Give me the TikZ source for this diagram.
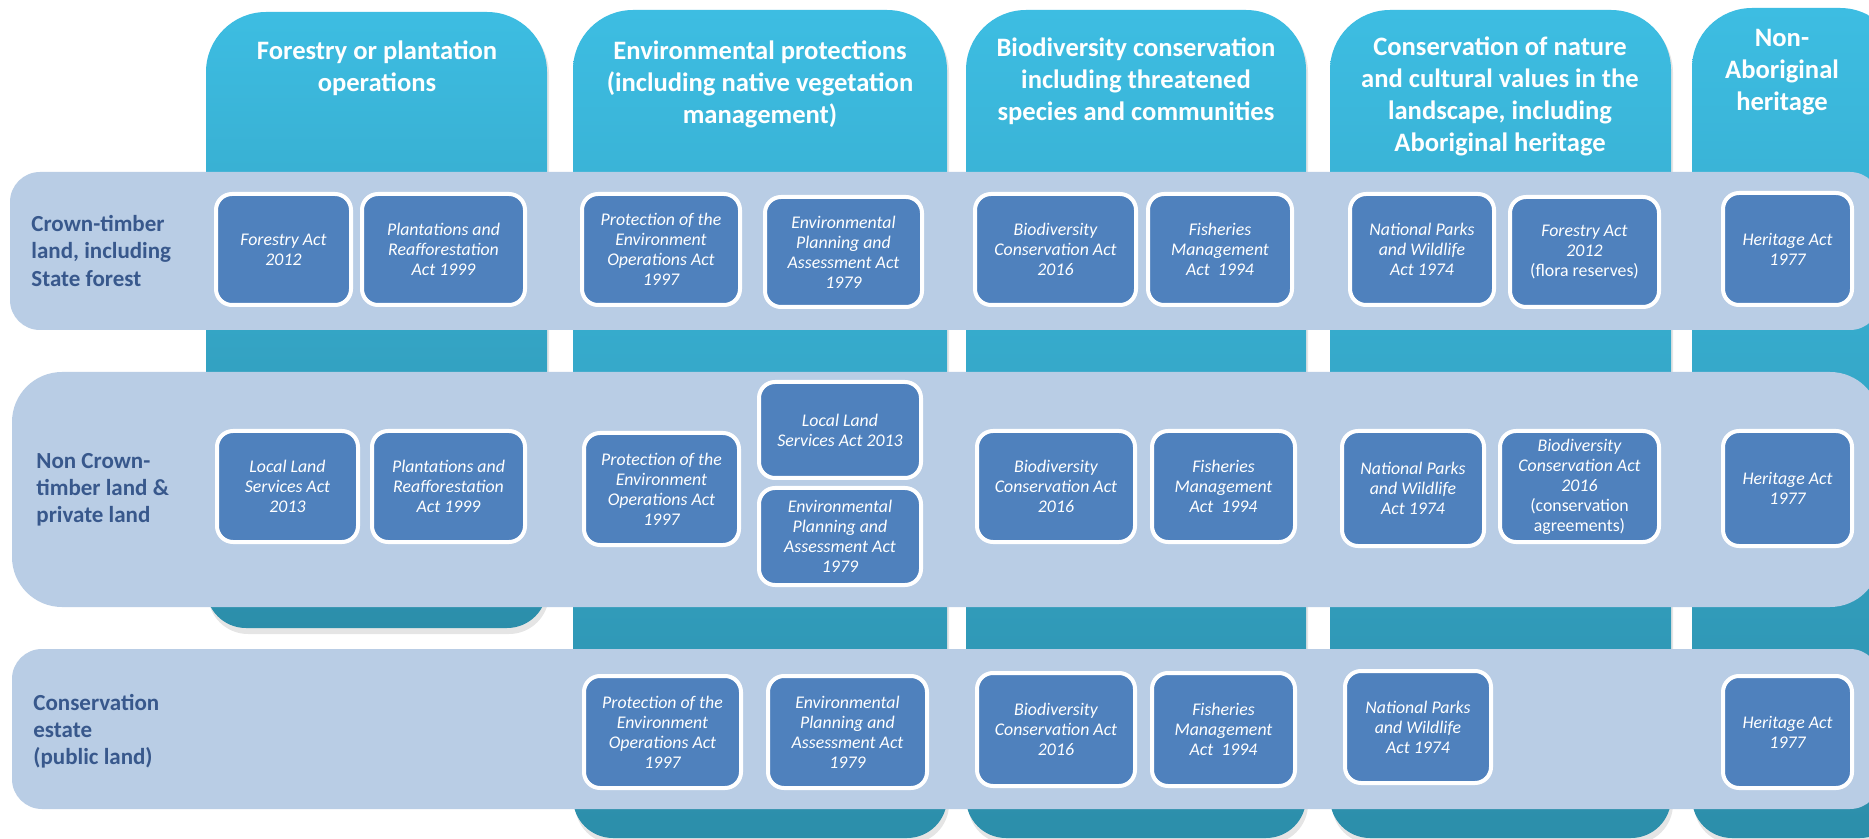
\documentclass[tikz,border=0pt]{standalone}
\usepackage{fontspec}
\setmainfont{Carlito}
\definecolor{colTop}{RGB}{61,189,226}
\definecolor{colBot}{RGB}{44,142,170}
\definecolor{rowFill}{RGB}{185,205,229}
\definecolor{actFill}{RGB}{79,129,189}
\definecolor{rowText}{RGB}{56,88,140}
\tikzset{
  act/.style={draw=white, line width=2pt, fill=actFill, rounded corners=8pt,
    text=white, font=\fontsize{8.9}{10}\selectfont\itshape, align=center, inner sep=0pt},
  colhead/.style={text=white, font=\fontsize{13.3}{16}\selectfont\bfseries, align=center, inner sep=0pt},
  rowhead/.style={text=rowText, font=\fontsize{11.5}{13.6}\selectfont\bfseries, align=left, inner sep=0pt, anchor=west},
  rowband/.style={fill=rowFill},
  colshadow/.style={fill=black, opacity=0.1}
}
\newcommand\myactbox[6]{%
  \pgfmathsetmacro\myabcx{(#2+#4)/2}\pgfmathsetmacro\myabcy{(#3+#5)/2}%
  \pgfmathsetmacro\myabw{(#4-#2)*0.5}\pgfmathsetmacro\myabh{(#5-#3)*0.5}%
  \node[act, minimum width=\myabw pt, minimum height=\myabh pt] (#1) at (\myabcx,\myabcy) {#6};}
\newcommand\mycolumn[4]{%
  \fill[colshadow] [rounded corners=30pt] (#1+2,300) -- (#1+2,#3+3) -- (#2+2,#3+3) -- (#2+2,300) [rounded corners=20pt] -- (#2+2,#4+6) -- (#1+2,#4+6) -- cycle;
  \shade[top color=colTop, bottom color=colBot] [rounded corners=30pt] (#1,300) -- (#1,#3) -- (#2,#3) -- (#2,300) [rounded corners=20pt] -- (#2,#4) -- (#1,#4) -- cycle;}
\begin{document}
\begin{tikzpicture}[x=0.5pt, y=-0.5pt]
\useasboundingbox (0,0) rectangle (1869,839);
\clip (0,0) rectangle (1869,839);
\fill[white] (0,0) rectangle (1869,839);
% columns
\mycolumn{206}{547}{12}{628}
\mycolumn{573}{947}{10}{838}
\mycolumn{966}{1306}{10}{838}
\mycolumn{1330}{1671}{10}{838}
\mycolumn{1692}{1900}{8}{838}
% headers
\node[colhead] (h1) at (377,68) {Forestry or plantation\\operations};
\node[colhead] (h2) at (760,84) {Environmental protections\\(including native vegetation\\management)};
\node[colhead] (h3) at (1136,81) {Biodiversity conservation\\including threatened\\species and communities};
\node[colhead] (h4) at (1500,96) {Conservation of nature\\and cultural values in the\\landscape, including\\Aboriginal heritage};
\node[colhead] (h5) at (1782,72) {Non-\\Aboriginal\\heritage};
% row bands
\fill[rowband, rounded corners=15pt] (10,172) rectangle (1880,330);
\fill[rowband, rounded corners=25pt] (12,372) rectangle (1880,607);
\fill[rowband, rounded corners=15pt] (12,649) rectangle (1880,809);
% row labels
\node[rowhead] (l1) at (31,251) {Crown-timber\\land, including\\State forest};
\node[rowhead] (l2) at (36,490) {Non Crown-\\timber land \&\\private land};
\node[rowhead] (l3) at (33,731) {Conservation\\estate\\(public land)};
% row 1
\myactbox{a1}{216}{194}{351}{305}{Forestry Act\\2012}
\myactbox{a2}{362}{194}{525}{305}{Plantations and\\Reafforestation\\Act 1999}
\myactbox{a3}{582}{194}{740}{305}{Protection of the\\Environment\\Operations Act\\1997}
\myactbox{a4}{765}{197}{922}{307}{Environmental\\Planning and\\Assessment Act\\1979}
\myactbox{a5}{975}{194}{1136}{305}{Biodiversity\\Conservation Act\\2016}
\myactbox{a6}{1148}{194}{1292}{305}{Fisheries\\Management\\Act~~1994}
\myactbox{a7}{1350}{194}{1494}{305}{National Parks\\and Wildlife\\Act 1974}
\myactbox{a8}{1510}{197}{1659}{307}{Forestry Act\\2012\\{\upshape(flora reserves)}}
\myactbox{a9}{1723}{193}{1852}{305}{Heritage Act\\1977}
% row 2
\myactbox{b1}{217}{431}{358}{542}{Local Land\\Services Act\\2013}
\myactbox{b2}{372}{431}{525}{542}{Plantations and\\Reafforestation\\Act 1999}
\myactbox{b3}{584}{433}{739}{545}{Protection of the\\Environment\\Operations Act\\1997}
\myactbox{b4}{759}{382}{921}{478}{Local Land\\Services Act 2013}
\myactbox{b5}{759}{488}{921}{585}{Environmental\\Planning and\\Assessment Act\\1979}
\myactbox{b6}{977}{431}{1135}{542}{Biodiversity\\Conservation Act\\2016}
\myactbox{b7}{1152}{431}{1295}{542}{Fisheries\\Management\\Act~~1994}
\myactbox{b8}{1342}{431}{1484}{546}{National Parks\\and Wildlife\\Act 1974}
\myactbox{b9}{1500}{431}{1659}{542}{Biodiversity\\Conservation Act\\2016\\{\upshape(conservation}\\{\upshape agreements)}}
\myactbox{b10}{1723}{431}{1852}{546}{Heritage Act\\1977}
% row 3
\myactbox{c1}{584}{676}{741}{788}{Protection of the\\Environment\\Operations Act\\1997}
\myactbox{c2}{768}{676}{927}{788}{Environmental\\Planning and\\Assessment Act\\1979}
\myactbox{c3}{977}{673}{1135}{786}{Biodiversity\\Conservation Act\\2016}
\myactbox{c4}{1152}{673}{1295}{786}{Fisheries\\Management\\Act~~1994}
\myactbox{c5}{1345}{671}{1491}{783}{National Parks\\and Wildlife\\Act 1974}
\myactbox{c6}{1723}{676}{1852}{788}{Heritage Act\\1977}
\end{tikzpicture}
\end{document}
